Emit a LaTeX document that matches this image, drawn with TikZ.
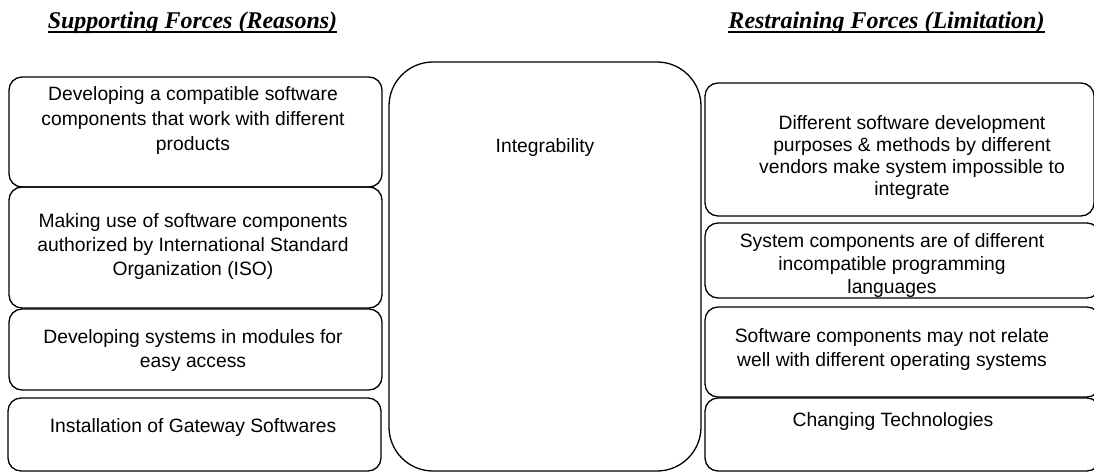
\documentclass[tikz,border=0pt]{standalone}
\usepackage{fontspec}
\setmainfont{Liberation Sans}
\newfontfamily\titlefont{Liberation Serif}
\begin{document}
\begin{tikzpicture}[x=1pt,y=-1pt,
  box/.style={draw,line width=1.3pt,rounded corners=13pt},
  bigbox/.style={draw,line width=1.3pt,rounded corners=44pt},
  txt/.style={align=center,inner sep=0pt,font=\fontsize{19.3}{24}\selectfont},
  ttl/.style={inner sep=0pt,anchor=base,font=\titlefont\bfseries\itshape\fontsize{24}{28}\selectfont},
  uline/.style={line width=1.4pt}]
\useasboundingbox (0,0) rectangle (1094,474);
\clip (0,0) rectangle (1094,474);
% titles
\node[ttl] (tl) at (192.5,28) {Supporting Forces (Reasons)};
\node[ttl] (tr) at (886.5,28) {Restraining Forces (Limitation)};
\draw[uline] ([yshift=-4pt]tl.base west) -- ([yshift=-4pt]tl.base east);
\draw[uline] ([yshift=-4pt]tr.base west) -- ([yshift=-4pt]tr.base east);
% left boxes
\draw[box] (9,77) rectangle (382,187);
\draw[box] (9,187) rectangle (382,308);
\draw[box] (9,309) rectangle (382,390);
\draw[box] (8,398) rectangle (381,471);
% centre box
\draw[bigbox] (389,62) rectangle (701,471);
% right boxes
\draw[box] (705,83) rectangle (1094,216);
\draw[box] (705,223) rectangle (1100,298);
\draw[box] (705,307) rectangle (1100,397);
\draw[box] (705,398) rectangle (1100,471);
% texts
\node[txt,font=\fontsize{19.3}{25}\selectfont] (l1) at (193,120.5) {Developing a compatible software\\components that work with different\\products};
\node[txt] (l2) at (193,246.5) {Making use of software components\\authorized by International Standard\\Organization (ISO)};
\node[txt] (l3) at (193,350.5) {Developing systems in modules for\\easy access};
\node[txt] (l4) at (193,427.5) {Installation of Gateway Softwares};
\node[txt] (c) at (545,148) {Integrability};
\node[txt,font=\fontsize{19.3}{22}\selectfont] (r1) at (912,157.5) {Different software development\\purposes \& methods by different\\vendors make system impossible to\\integrate};
\node[txt,font=\fontsize{19.3}{23}\selectfont] (r2) at (892,265.5) {System components are of different\\incompatible programming\\languages};
\node[txt] (r3) at (892,349.5) {Software components may not relate\\well with different operating systems};
\node[txt] (r4) at (893,421.5) {Changing Technologies};
\end{tikzpicture}
\end{document}
